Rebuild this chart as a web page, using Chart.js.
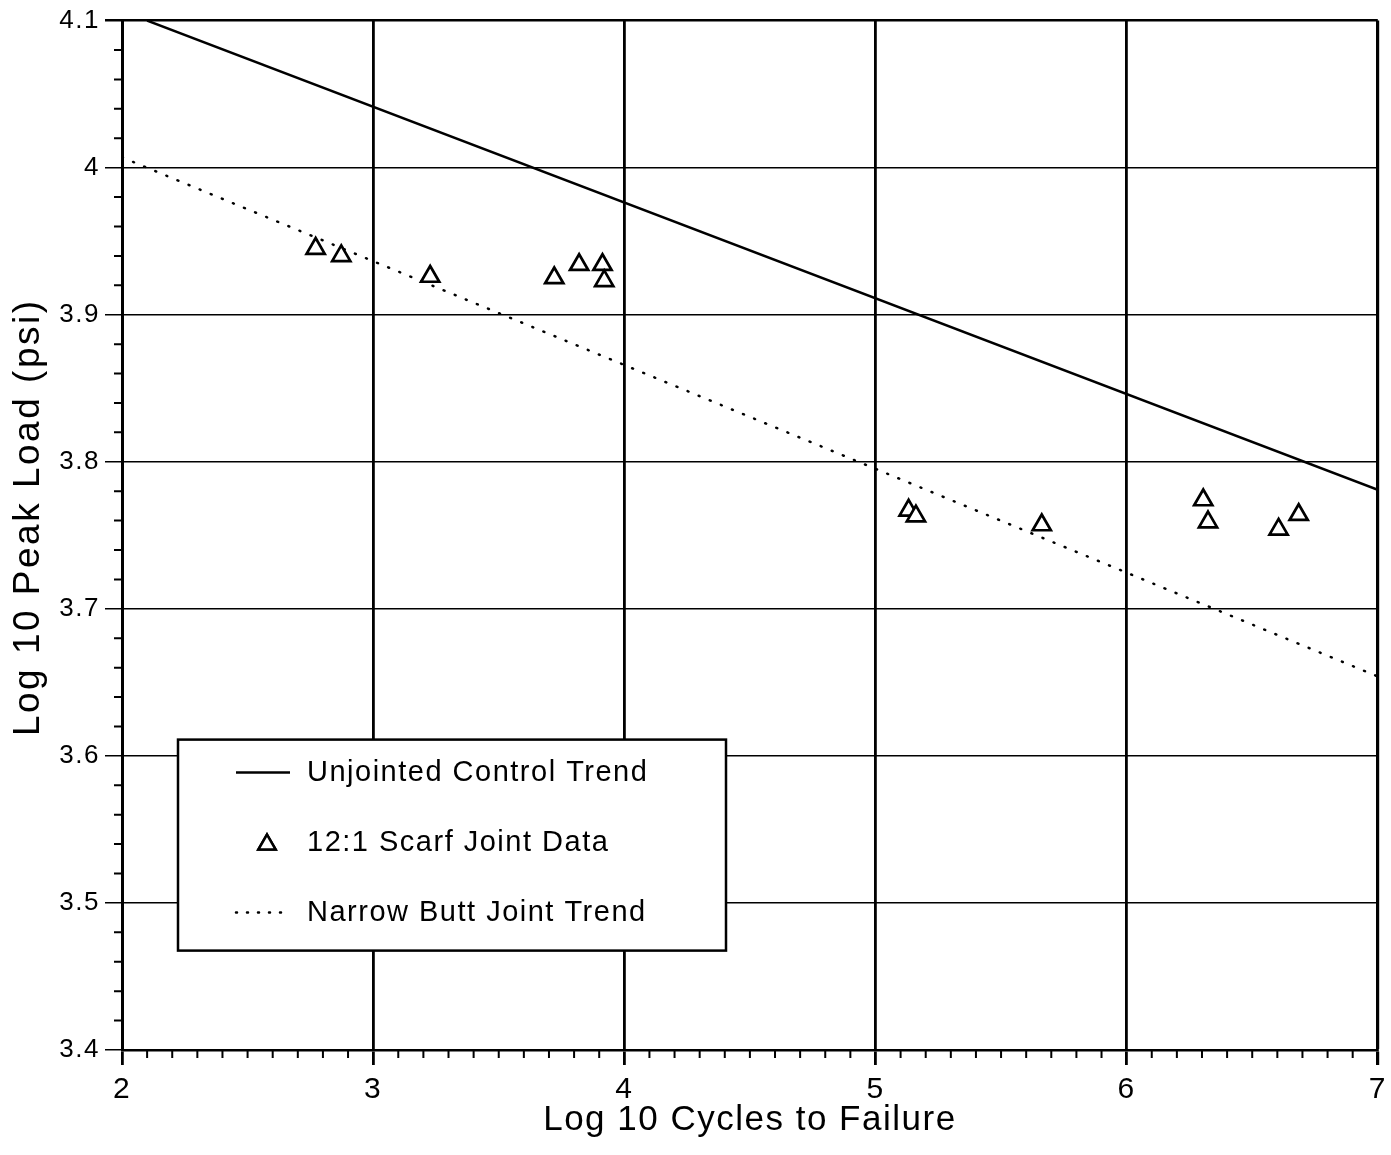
<!DOCTYPE html>
<html>
<head>
<meta charset="utf-8">
<title>Log 10 Peak Load vs Log 10 Cycles to Failure</title>
<script src="https://cdn.jsdelivr.net/npm/chart.js@4.4.1/dist/chart.umd.min.js"></script>
<style>
  html, body { margin: 0; padding: 0; background: #fff; overflow: hidden; }
  #wrap { width: 1391px; height: 1155px; }
</style>
</head>
<body>
<div id="wrap"><canvas id="fatigueChart" width="1391" height="1155"></canvas></div>
<script>
// 12:1 scarf joint test points (log10 cycles, log10 psi)
const scarfCycles = [2.771, 2.873, 3.227, 3.721, 3.820, 3.913, 3.920, 5.132, 5.161, 5.662, 6.305, 6.324, 6.605, 6.685];
const scarfLoad   = [3.945, 3.940, 3.926, 3.925, 3.934, 3.934, 3.923, 3.767, 3.763, 3.757, 3.774, 3.759, 3.754, 3.764];

// Trend line end points
const controlCycles = [2.1, 7];
const controlLoad   = [4.1, 3.781];
const buttCycles    = [2, 7];
const buttLoad      = [4.007, 3.654];

// Axis ticks
const xTicks = [2, 3, 4, 5, 6, 7];
const yTicks = [3.4, 3.5, 3.6, 3.7, 3.8, 3.9, 4.0, 4.1];

const seriesNames = ["Unjointed Control Trend", "12:1 Scarf Joint Data", "Narrow Butt Joint Trend"];
const yTitle = "Log 10 Peak Load (psi)";

const FONT = "'Liberation Sans', Arial, Helvetica, sans-serif";

function toPoints(xs, ys) {
    return xs.map((x, i) => ({ x: x, y: ys[i] }));
}

// The scanned original has wide letter spacing
const wideText = {
    id: 'wideText',
    beforeDraw(chart) {
        chart.ctx.letterSpacing = '1.5px';
    }
};

// Small unlabeled ticks outside the axes
const minorTicks = {
    id: 'minorTicks',
    afterDraw(chart) {
        const { ctx, chartArea, scales: { x, y } } = chart;
        ctx.save();
        ctx.strokeStyle = '#000';
        ctx.lineWidth = 2;
        ctx.beginPath();
        // y: every 0.02
        for (let i = 1; i < 35; i++) {
            if (i % 5 === 0) continue;
            const py = y.getPixelForValue(yTicks[0] + i * 0.02);
            ctx.moveTo(chartArea.left - 8, py);
            ctx.lineTo(chartArea.left, py);
        }
        // x: every 0.1
        for (let i = 1; i < 50; i++) {
            if (i % 10 === 0) continue;
            const px = x.getPixelForValue(xTicks[0] + i * 0.1);
            ctx.moveTo(px, chartArea.bottom);
            ctx.lineTo(px, chartArea.bottom + 8);
        }
        ctx.stroke();
        ctx.restore();
    }
};

// Y axis title sits a bit above the middle of the axis in the original
const yAxisTitle = {
    id: 'yAxisTitle',
    afterDraw(chart) {
        const { ctx, chartArea } = chart;
        ctx.save();
        ctx.translate(29, (chartArea.top + chartArea.bottom) / 2 - 18);
        ctx.rotate(-Math.PI / 2);
        ctx.letterSpacing = '2.5px';
        ctx.fillStyle = '#000';
        ctx.font = '37px ' + FONT;
        ctx.textAlign = 'center';
        ctx.textBaseline = 'middle';
        ctx.fillText(yTitle, 0, 0);
        ctx.restore();
    }
};

// Boxed legend inside the plot, lower left
const boxLegend = {
    id: 'boxLegend',
    afterDraw(chart) {
        const { ctx, chartArea } = chart;
        const left = chartArea.left + 56;
        const top = chartArea.top + 719;
        const w = 548, h = 211;

        ctx.save();
        ctx.fillStyle = '#fff';
        ctx.fillRect(left, top, w, h);
        ctx.strokeStyle = '#000';
        ctx.lineWidth = 2.5;
        ctx.strokeRect(left, top, w, h);

        const rows = [top + 33, top + 103, top + 173];
        const sx0 = left + 58, sx1 = left + 112, tx = left + 129;

        // solid line sample
        ctx.beginPath();
        ctx.lineWidth = 2.5;
        ctx.moveTo(sx0, rows[0]);
        ctx.lineTo(sx1, rows[0]);
        ctx.stroke();

        // triangle sample
        Chart.helpers.drawPoint(ctx, { pointStyle: 'triangle', radius: 10, borderWidth: 2.5 }, left + 89, rows[1] + 2);
        ctx.fillStyle = '#fff';
        ctx.fill();
        ctx.lineWidth = 2.5;
        ctx.strokeStyle = '#000';
        ctx.stroke();

        // dotted sample
        ctx.beginPath();
        ctx.setLineDash([1, 10]);
        ctx.lineCap = 'round';
        ctx.lineWidth = 2.5;
        ctx.moveTo(sx0, rows[2]);
        ctx.lineTo(sx1, rows[2]);
        ctx.stroke();
        ctx.setLineDash([]);

        ctx.fillStyle = '#000';
        ctx.font = '29px ' + FONT;
        ctx.letterSpacing = '1.5px';
        ctx.textBaseline = 'middle';
        ctx.textAlign = 'left';
        seriesNames.forEach((name, i) => ctx.fillText(name, tx, rows[i]));
        ctx.restore();
    }
};

const ctx = document.getElementById('fatigueChart');

new Chart(ctx, {
    type: 'scatter',
    data: {
        datasets: [
            {
                label: seriesNames[1],
                data: toPoints(scarfCycles, scarfLoad),
                pointStyle: 'triangle',
                pointRadius: 10.5,
                pointBackgroundColor: '#fff',
                pointBorderColor: '#000',
                pointBorderWidth: 2.7,
                showLine: false
            },
            {
                label: seriesNames[0],
                data: toPoints(controlCycles, controlLoad),
                showLine: true,
                borderColor: '#000',
                borderWidth: 2.5,
                pointRadius: 0
            },
            {
                label: seriesNames[2],
                data: toPoints(buttCycles, buttLoad),
                showLine: true,
                borderColor: '#000',
                borderWidth: 2.5,
                borderDash: [1, 11],
                borderCapStyle: 'round',
                pointRadius: 0
            }
        ]
    },
    options: {
        responsive: false,
        animation: false,
        events: [],
        layout: { padding: { top: 20, right: 9, left: 0, bottom: 0 } },
        plugins: {
            legend: { display: false },
            tooltip: { enabled: false },
            title: { display: false }
        },
        scales: {
            x: {
                type: 'linear',
                min: xTicks[0],
                max: xTicks[xTicks.length - 1],
                afterBuildTicks: s => { s.ticks = xTicks.map(v => ({ value: v })); },
                afterFit: s => { s.height = 105; s.paddingLeft = 0; s.paddingRight = 0; },
                border: { display: true, color: '#000', width: 2.5 },
                grid: {
                    color: '#000',
                    lineWidth: c => (c.tick && c.tick.value === 7 ? 3.2 : 2.8),
                    tickLength: 15,
                    tickColor: '#000'
                },
                ticks: {
                    color: '#000',
                    padding: 7,
                    maxRotation: 0,
                    font: { family: FONT, size: 30 },
                    callback: v => String(v)
                },
                title: {
                    display: true,
                    text: 'Log 10 Cycles to Failure',
                    color: '#000',
                    font: { family: FONT, size: 35 },
                    padding: { top: 0, bottom: 14 }
                }
            },
            y: {
                type: 'linear',
                min: yTicks[0],
                max: yTicks[yTicks.length - 1],
                afterBuildTicks: s => { s.ticks = yTicks.map(v => ({ value: v })); },
                afterFit: s => { s.width = 122; },
                border: { display: true, color: '#000', width: 3 },
                grid: {
                    color: '#000',
                    lineWidth: c => (c.tick && c.tick.value >= 4.09 ? 2.5 : 1.5),
                    tickLength: 17,
                    tickColor: '#000'
                },
                ticks: {
                    color: '#000',
                    padding: 5,
                    font: { family: FONT, size: 26 },
                    callback: v => String(+v.toFixed(1))
                },
                title: { display: false }
            }
        }
    },
    plugins: [wideText, minorTicks, yAxisTitle, boxLegend]
});
</script>
</body>
</html>
